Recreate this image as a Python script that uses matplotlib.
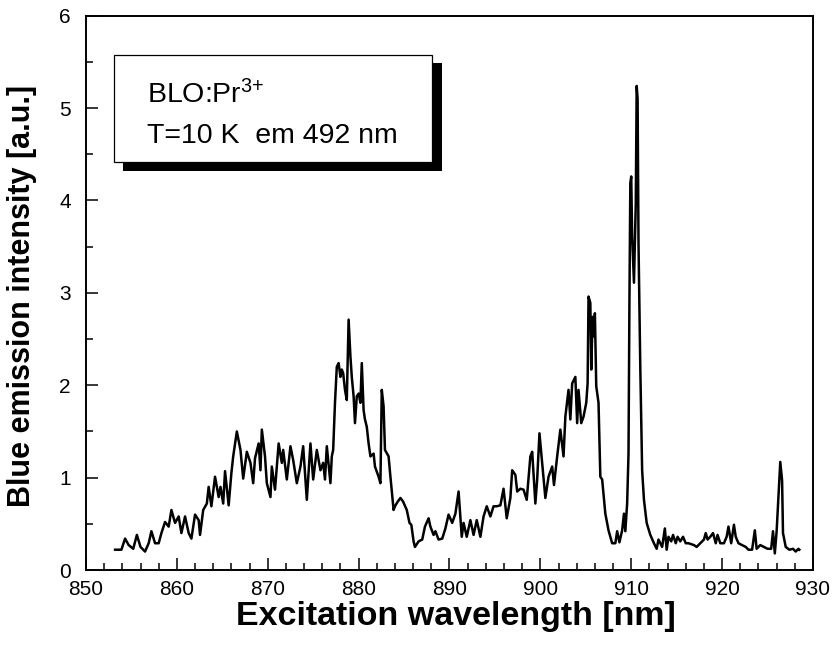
import matplotlib
matplotlib.use("Agg")
import matplotlib.pyplot as plt
from matplotlib.patches import Rectangle
from matplotlib.ticker import MultipleLocator

plt.rcParams['font.family'] = ['Liberation Sans', 'DejaVu Sans']
plt.rcParams['mathtext.default'] = 'regular'

# excitation spectrum (nm, a.u.)
wavelength_nm = [
    853.2, 853.9, 854.3, 854.7, 855.2, 855.6, 856.0, 856.5, 856.9, 857.2,
    857.6, 858.0, 858.3, 858.7, 859.1, 859.4, 859.8, 860.2, 860.5, 860.9,
    861.3, 861.6, 862.0, 862.4, 862.55, 862.9, 863.3, 863.5, 863.8, 864.2,
    864.6, 864.8, 865.1, 865.3, 865.7, 866.0, 866.2, 866.6, 867.0, 867.3,
    867.7, 868.1, 868.4, 868.6, 869.0, 869.2, 869.35, 869.7, 869.9, 870.3,
    870.45, 870.8, 871.2, 871.55, 871.7, 872.1, 872.5, 872.8, 873.2, 873.6,
    873.9, 874.3, 874.7, 875.0, 875.4, 875.8, 876.1, 876.3, 876.5, 876.9,
    877.05, 877.2, 877.4, 877.6, 877.8, 878.0, 878.15, 878.3, 878.5, 878.7,
    878.9, 879.1, 879.25, 879.45, 879.6, 879.8, 880.0, 880.2, 880.35, 880.55,
    880.7, 880.9, 881.1, 881.3, 881.65, 881.8, 882.2, 882.4, 882.55, 882.75,
    882.9, 883.3, 883.5, 883.85, 884.0, 884.3, 884.6, 884.9, 885.3, 885.6,
    885.8, 886.05, 886.2, 886.6, 887.0, 887.3, 887.7, 887.9, 888.25, 888.45,
    888.8, 889.2, 889.55, 889.9, 890.3, 890.65, 891.0, 891.35, 891.55, 891.9,
    892.3, 892.65, 893.0, 893.4, 893.75, 894.1, 894.5, 894.85, 895.2, 895.6,
    895.95, 896.3, 896.7, 896.9, 897.25, 897.45, 897.8, 898.15, 898.5, 898.9,
    899.1, 899.45, 899.65, 899.9, 900.2, 900.55, 900.9, 901.3, 901.5, 901.85,
    902.2, 902.55, 902.75, 903.1, 903.3, 903.5, 903.85, 904.05, 904.2, 904.5,
    904.75, 905.05, 905.2, 905.3, 905.5, 905.6, 905.75, 905.85, 906.0, 906.15,
    906.4, 906.6, 906.8, 907.15, 907.5, 907.9, 908.25, 908.45, 908.7, 909.0,
    909.2, 909.35, 909.55, 909.7, 909.8, 909.9, 910.0, 910.1, 910.3, 910.5,
    910.6, 910.7, 910.8, 911.0, 911.2, 911.4, 911.7, 912.1, 912.5, 912.8,
    913.0, 913.4, 913.7, 913.9, 914.1, 914.4, 914.6, 914.9, 915.1, 915.4,
    915.7, 916.0, 916.3, 916.9, 917.2, 917.6, 918.0, 918.2, 918.4, 918.7,
    919.0, 919.3, 919.5, 919.8, 920.2, 920.5, 920.7, 921.0, 921.3, 921.5,
    921.8, 922.2, 922.6, 922.9, 923.3, 923.6, 923.8, 924.2, 924.6, 925.0,
    925.4, 925.6, 925.8, 926.0, 926.2, 926.4, 926.6, 926.7, 927.0, 927.4,
    927.8, 928.1, 928.4, 928.5,
]
intensity = [
    0.22, 0.22, 0.34, 0.27, 0.23, 0.38, 0.25, 0.20, 0.29, 0.42,
    0.29, 0.29, 0.40, 0.52, 0.47, 0.65, 0.51, 0.58, 0.40, 0.58,
    0.40, 0.34, 0.60, 0.54, 0.38, 0.65, 0.72, 0.90, 0.69, 1.01,
    0.79, 0.90, 0.72, 1.07, 0.70, 1.05, 1.23, 1.50, 1.30, 0.99,
    1.28, 1.16, 0.94, 1.21, 1.37, 1.08, 1.52, 1.23, 0.94, 0.79,
    1.12, 0.87, 1.37, 1.16, 1.30, 0.98, 1.34, 1.19, 0.94, 1.12,
    1.34, 0.76, 1.37, 0.98, 1.30, 1.08, 1.16, 0.98, 1.34, 0.94,
    1.23, 1.30, 1.81, 2.20, 2.24, 2.09, 2.17, 2.13, 1.95, 1.84,
    2.71, 2.31, 2.09, 1.88, 1.59, 1.88, 1.91, 1.81, 2.24, 1.73,
    1.63, 1.55, 1.37, 1.23, 1.26, 1.12, 1.01, 0.94, 1.95, 1.77,
    1.30, 1.23, 1.01, 0.65, 0.69, 0.74, 0.78, 0.74, 0.65, 0.51,
    0.49, 0.31, 0.25, 0.31, 0.33, 0.47, 0.56, 0.47, 0.38, 0.42,
    0.33, 0.34, 0.45, 0.60, 0.51, 0.61, 0.85, 0.36, 0.51, 0.36,
    0.54, 0.38, 0.54, 0.36, 0.58, 0.69, 0.58, 0.69, 0.69, 0.70,
    0.88, 0.56, 0.78, 1.08, 1.03, 0.85, 0.88, 0.87, 0.76, 1.23,
    1.28, 0.72, 0.98, 1.48, 1.16, 0.78, 1.01, 1.12, 0.92, 1.23,
    1.52, 1.23, 1.66, 1.95, 1.63, 2.02, 2.09, 1.59, 1.95, 1.59,
    1.66, 1.81, 2.02, 2.96, 2.89, 2.17, 2.74, 2.53, 2.78, 1.99,
    1.81, 1.01, 0.98, 0.61, 0.43, 0.29, 0.29, 0.42, 0.30, 0.43,
    0.61, 0.42, 0.72, 1.26, 2.89, 4.19, 4.26, 3.61, 3.11, 3.97,
    5.24, 5.10, 3.54, 2.17, 1.08, 0.76, 0.51, 0.38, 0.29, 0.23,
    0.33, 0.25, 0.45, 0.22, 0.36, 0.31, 0.38, 0.29, 0.36, 0.31,
    0.36, 0.29, 0.29, 0.27, 0.25, 0.29, 0.33, 0.40, 0.33, 0.36,
    0.40, 0.29, 0.38, 0.29, 0.29, 0.36, 0.47, 0.29, 0.49, 0.36,
    0.29, 0.27, 0.25, 0.22, 0.22, 0.43, 0.23, 0.27, 0.25, 0.23,
    0.23, 0.42, 0.18, 0.42, 0.79, 1.17, 0.97, 0.40, 0.25, 0.22,
    0.23, 0.20, 0.23, 0.22,
]

x_ticks = [850, 860, 870, 880, 890, 900, 910, 920, 930]
y_ticks = [0, 1, 2, 3, 4, 5, 6]
sample_line = 'BLO:Pr$^{3{+}}$'
condition_line = 'T=10 K  em 492 nm'

fig = plt.figure(figsize=(8.34, 6.46), dpi=100)
ax = fig.add_axes([0.1031, 0.1176, 0.8717, 0.8581])

ax.plot(wavelength_nm, intensity, color='black', linewidth=1.8)

ax.set_xlim(850, 930)
ax.set_ylim(0, 6)
ax.set_xticks(x_ticks)
ax.set_yticks(y_ticks)
ax.xaxis.set_minor_locator(MultipleLocator(2))
ax.yaxis.set_minor_locator(MultipleLocator(0.5))
ax.tick_params(which='both', direction='in', width=1.1, top=False, right=False)
ax.tick_params(which='major', length=8.5)
ax.tick_params(which='minor', length=4.7)
ax.tick_params(axis='x', which='major', labelsize=15, pad=7)
ax.tick_params(axis='y', which='major', labelsize=15, pad=11)
for sp in ax.spines.values():
    sp.set_linewidth(1.4)

ax.set_xlabel('Excitation wavelength [nm]', fontsize=24.5, fontweight='bold')
ax.set_ylabel('Blue emission intensity [a.u.]', fontsize=22, fontweight='bold')
ax.xaxis.set_label_coords(0.509, -0.055)
ax.yaxis.set_label_coords(-0.067, 0.494)

# label box with drop shadow
ax.add_patch(Rectangle((0.0505, 0.7204), 0.4388, 0.1937, transform=ax.transAxes,
                       facecolor='black', edgecolor='none', zorder=3))
ax.add_patch(Rectangle((0.0385, 0.7366), 0.437, 0.1925, transform=ax.transAxes,
                       facecolor='white', edgecolor='black', linewidth=0.9, zorder=4))
ax.text(0.0835, 0.842, sample_line, transform=ax.transAxes, fontsize=20.5,
        ha='left', va='baseline', zorder=5)
ax.text(0.0835, 0.7698, condition_line, transform=ax.transAxes, fontsize=20.5,
        ha='left', va='baseline', zorder=5)

fig.savefig('out.png', dpi=100)
